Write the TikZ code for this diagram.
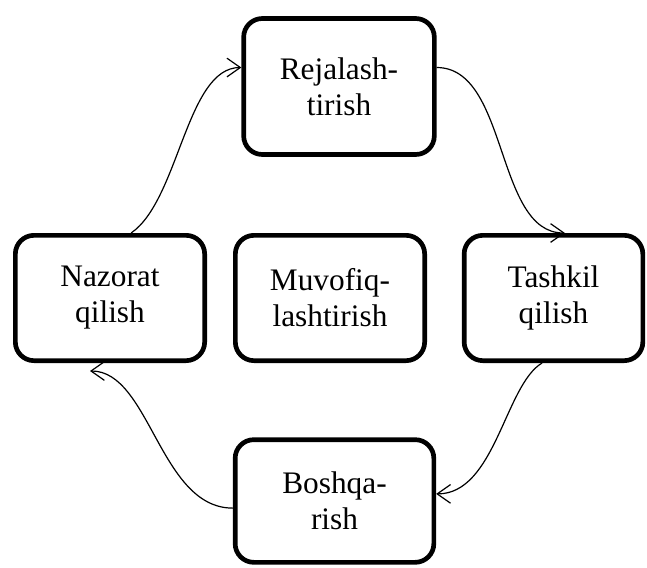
\documentclass[tikz,border=0pt]{standalone}
\usepackage{fontspec}
\setmainfont{Liberation Serif}
\usetikzlibrary{arrows.meta,calc}
\begin{document}
\begin{tikzpicture}[x=0.75pt,y=-0.75pt,
  stagebox/.style={draw, line width=3.5pt, rounded corners=14pt, align=center,
    inner sep=0pt, font=\fontsize{23.5}{27}\selectfont},
  flow/.style={line width=0.9pt, -{Straight Barb[length=10pt,width=14pt,line width=0.9pt]}}]
\useasboundingbox (0,0) rectangle (647,568);
% the five stages
\node[stagebox, minimum width=143pt, minimum height=102pt] (T) at (339,86.5) {Rejalash-\\tirish};
\node[stagebox, minimum width=142pt, minimum height=94pt] (L) at (110,298) {Nazorat\\qilish};
\node[stagebox, minimum width=142pt, minimum height=94pt] (C) at (330,298) {Muvofiq-\\lashtirish};
\node[stagebox, minimum width=134pt, minimum height=94pt] (R) at (553.5,298) {Tashkil\\qilish};
\node[stagebox, minimum width=149pt, minimum height=92pt] (B) at (334.5,501) {Boshqa-\\rish};
% the cycle of connectors
\coordinate (Lin) at ($(L.south)+(-20,8)$);
\draw[flow] (L.72) .. controls +(48,-33) and +(-55,0) .. (T.169);
\draw[flow] (T.11) .. controls +(72,0) and +(-70,0) .. (R.80);
\draw[flow] (R.-100) .. controls +(-37,22) and +(59,0) .. (B.4.5);
\draw[flow] (B.184.5) .. controls +(-73,0) and +(60,0) .. (Lin);
\end{tikzpicture}
\end{document}
